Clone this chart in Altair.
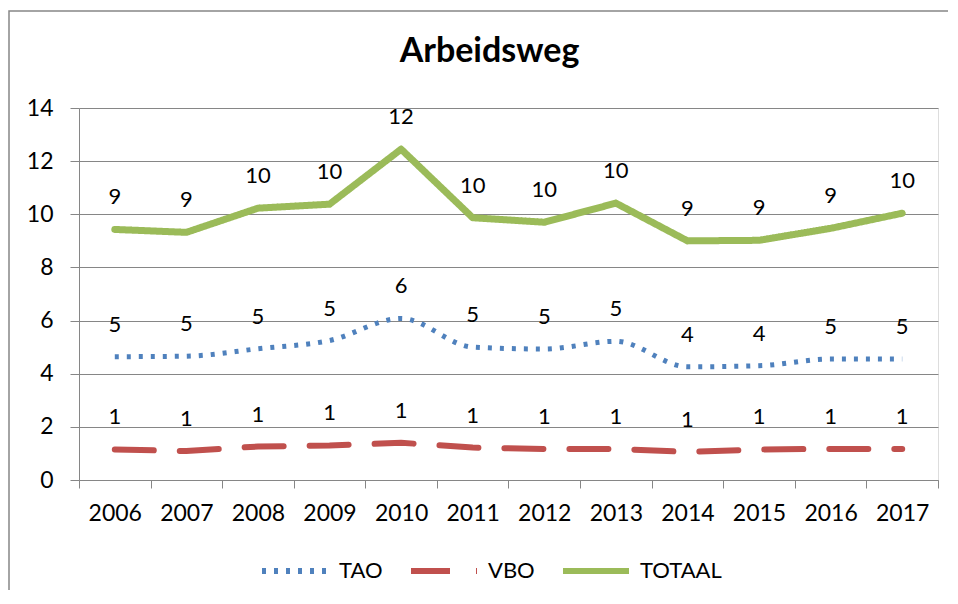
import altair as alt
import pandas as pd

years = ["2006", "2007", "2008", "2009", "2010", "2011", "2012", "2013", "2014", "2015", "2016", "2017"]
tao = [4.64, 4.66, 4.94, 5.25, 6.08, 5.00, 4.93, 5.22, 4.26, 4.30, 4.55, 4.55]
vbo = [1.15, 1.09, 1.26, 1.30, 1.40, 1.22, 1.17, 1.17, 1.06, 1.15, 1.17, 1.17]
totaal = [9.43, 9.32, 10.23, 10.38, 12.45, 9.87, 9.70, 10.42, 9.00, 9.02, 9.47, 10.04]

series_names = ["TAO", "VBO", "TOTAAL"]
series_colors = ["#4F81BD", "#C0504D", "#9BBB59"]
series_dashes = [[4, 8], [39, 26], [1, 0]]
y_ticks = [0, 2, 4, 6, 8, 10, 12, 14]

rows = []
for name, vals in zip(series_names, [tao, vbo, totaal]):
    for yr, v in zip(years, vals):
        rows.append({"year": yr, "series": name, "value": v})
df = pd.DataFrame(rows)

FONT = "Lato"
GRAY = "#868686"

x_enc = alt.X(
    "year:O",
    sort=years,
    bandPosition=0.5,
    scale=alt.Scale(type="band", paddingInner=0, paddingOuter=0),
    axis=alt.Axis(
        title=None, labelAngle=0, tickBand="extent", grid=False,
        domainColor=GRAY, tickColor=GRAY, tickSize=8, labelPadding=14,
        labelFont=FONT, labelFontSize=23, labelColor="black",
    ),
)
y_enc = alt.Y(
    "value:Q",
    scale=alt.Scale(domain=[0, 14], nice=False),
    axis=alt.Axis(
        title=None, values=y_ticks, grid=True, gridColor=GRAY, gridWidth=1,
        domainColor=GRAY, tickColor=GRAY, tickSize=9, labelPadding=17,
        labelFont=FONT, labelFontSize=23, labelColor="black",
    ),
)
legend_props = dict(
    title=None, orient="none", legendX=180, legendY=427, direction="horizontal",
    symbolType="stroke", symbolSize=4356, symbolStrokeWidth=6,
    labelFont=FONT, labelFontSize=22, labelColor="black", labelOffset=8,
    columnPadding=16, padding=0,
)
color_enc = alt.Color(
    "series:N",
    scale=alt.Scale(domain=series_names, range=series_colors),
    legend=alt.Legend(**legend_props),
)
dash_enc = alt.StrokeDash(
    "series:N",
    scale=alt.Scale(domain=series_names, range=series_dashes),
    legend=alt.Legend(**legend_props),
)

base = alt.Chart(df)

tao_line = base.transform_filter(alt.datum.series == "TAO").mark_line(
    strokeWidth=5, strokeCap="butt", interpolate="monotone"
).encode(x=x_enc, y=y_enc, color=color_enc, strokeDash=dash_enc)

vbo_line = base.transform_filter(alt.datum.series == "VBO").mark_line(
    strokeWidth=6, strokeCap="round"
).encode(x=x_enc, y=y_enc, color=color_enc, strokeDash=dash_enc)

tot_line = base.transform_filter(alt.datum.series == "TOTAAL").mark_line(
    strokeWidth=7, strokeCap="round", strokeJoin="round"
).encode(x=x_enc, y=y_enc, color=color_enc, strokeDash=dash_enc)

labels = base.mark_text(
    font=FONT, fontSize=22, color="black", baseline="alphabetic", dy=-25
).encode(x=x_enc, y=y_enc, text=alt.Text("value:Q", format=".0f"))

border = alt.Chart(pd.DataFrame({"b": [0]})).mark_rect(
    filled=False, stroke=GRAY, strokeWidth=1.5
).encode(x=alt.value(-70), x2=alt.value(900), y=alt.value(-97), y2=alt.value(540))

chart = alt.layer(border, tao_line, vbo_line, tot_line, labels).properties(
    width=859,
    height=372,
    autosize=alt.AutoSizeParams(type="none"),
    padding={"left": 71, "top": 100, "right": 10, "bottom": 110},
    title=alt.TitleParams(
        "Arbeidsweg", font=FONT, fontSize=34, fontWeight="bold", color="black",
        anchor="middle", frame="group", dx=-19, baseline="alphabetic", offset=-86,
    ),
).configure_view(stroke="transparent").configure(background="white")

chart.save("out.html", embed_options={"renderer": "svg", "actions": False})
